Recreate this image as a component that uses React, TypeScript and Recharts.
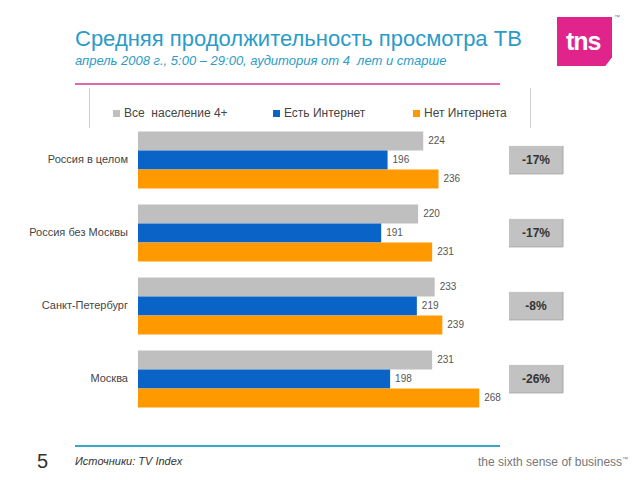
import { BarChart, Bar, XAxis, YAxis, LabelList } from "recharts";

const categories = ["Россия в целом", "Россия без Москвы", "Санкт-Петербург", "Москва"];
const allPopulation = [224, 220, 233, 231];
const withInternet = [196, 191, 219, 198];
const noInternet = [236, 231, 239, 268];
const diffs = ["-17%", "-17%", "-8%", "-26%"];

const seriesNames = ["Все  население 4+", "Есть Интернет", "Нет Интернета"];
const COLORS = ["#bfbfbf", "#0a64c8", "#ff9900"];
const FONT = "'Liberation Sans', Arial, sans-serif";

const data = categories.map((name, i) => ({
  name,
  all: allPopulation[i],
  yes: withInternet[i],
  no: noInternet[i],
  diff: diffs[i],
}));

const DiffBox = (props: any) => {
  const { y, height, value } = props;
  const cy = y + height / 2;
  return (
    <g>
      <rect x={509} y={cy - 14} width={54} height={28} fill="#c2c2c2" />
      <line x1={509} y1={cy + 14} x2={563} y2={cy + 14} stroke="#a8a8a8" />
      <line x1={563} y1={cy - 14} x2={563} y2={cy + 14} stroke="#a8a8a8" />
      <text x={536} y={cy + 4} textAnchor="middle" fontSize={12} fontWeight="bold" fill="#333" fontFamily={FONT}>
        {value}
      </text>
    </g>
  );
};

const LegendBox = () => (
  <div style={{ position: "absolute", left: 89, top: 88, width: 440, height: 40, borderLeft: "1px solid #cfcfcf", borderRight: "1px solid #cfcfcf", fontFamily: FONT, fontSize: 12, color: "#444" }}>
    {seriesNames.map((n, i) => (
      <div key={n} style={{ position: "absolute", left: [23, 183, 323][i], top: 18, display: "flex", alignItems: "center", whiteSpace: "pre" }}>
        <span style={{ width: 7, height: 7, background: COLORS[i], display: "inline-block", marginRight: 4 }} />
        {n}
      </div>
    ))}
  </div>
);

export default function App() {
  return (
    <div style={{ position: "absolute", left: 0, top: 0, width: 640, height: 480, background: "#fff", overflow: "hidden", fontFamily: FONT }}>
      <div style={{ position: "absolute", left: 75, top: 26, fontSize: 22, color: "#2b9bc8", whiteSpace: "nowrap" }}>
        Средняя продолжительность просмотра ТВ
      </div>
      <div style={{ position: "absolute", left: 75, top: 53, fontSize: 13, fontStyle: "italic", color: "#2b9bc8", whiteSpace: "pre" }}>
        апрель 2008 г., 5:00 – 29:00, аудитория от 4  лет и старше
      </div>
      <div style={{ position: "absolute", left: 557, top: 17, width: 55, height: 49, background: "#e0248c", clipPath: "polygon(0 0, 100% 0, 100% 82%, 88% 100%, 0 100%)", overflow: "hidden" }}>
        <span style={{ position: "absolute", left: 9, top: 10, fontSize: 25, fontWeight: "bold", color: "#fff", letterSpacing: -1 }}>tns</span>
      </div>
      <div style={{ position: "absolute", left: 614, top: 14, fontSize: 6, color: "#777" }}>™</div>
      <div style={{ position: "absolute", left: 75, top: 83, width: 425, height: 2, background: "#e06aa8" }} />

      <LegendBox />

      <div style={{ position: "absolute", left: 0, top: 0 }}>
        <BarChart
          width={640}
          height={480}
          data={data}
          layout="vertical"
          margin={{ top: 123, right: 120, bottom: 65, left: 0 }}
          barCategoryGap="11.5%"
          barGap={0}
        >
          <XAxis type="number" domain={[0, 300]} hide />
          <YAxis
            type="category"
            dataKey="name"
            width={138}
            axisLine={false}
            tickLine={false}
            tickSize={0}
            tickMargin={10}
            tick={{ fontSize: 11, fill: "#444", fontFamily: FONT }}
          />
          <Bar dataKey="all" name={seriesNames[0]} fill={COLORS[0]} isAnimationActive={false}>
            <LabelList dataKey="all" position="right" offset={5} fill="#555" fontSize={10} fontFamily={FONT} />
          </Bar>
          <Bar dataKey="yes" name={seriesNames[1]} fill={COLORS[1]} isAnimationActive={false}>
            <LabelList dataKey="yes" position="right" offset={5} fill="#555" fontSize={10} fontFamily={FONT} />
            <LabelList dataKey="diff" content={<DiffBox />} />
          </Bar>
          <Bar dataKey="no" name={seriesNames[2]} fill={COLORS[2]} isAnimationActive={false}>
            <LabelList dataKey="no" position="right" offset={5} fill="#555" fontSize={10} fontFamily={FONT} />
          </Bar>
        </BarChart>
      </div>

      <div style={{ position: "absolute", left: 75, top: 445, width: 425, height: 2, background: "#3aa6c8" }} />
      <div style={{ position: "absolute", left: 37, top: 450, fontSize: 20, color: "#333" }}>5</div>
      <div style={{ position: "absolute", left: 75, top: 455, fontSize: 11, fontStyle: "italic", color: "#333" }}>Источники: TV Index</div>
      <div style={{ position: "absolute", left: 478, top: 455, fontSize: 12, color: "#777", whiteSpace: "nowrap" }}>
        the sixth sense of business<sup style={{ fontSize: 6 }}>™</sup>
      </div>
    </div>
  );
}
